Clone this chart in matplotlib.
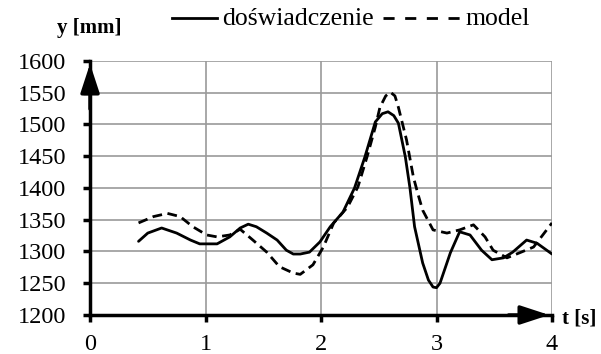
import numpy as np
import matplotlib
matplotlib.use("Agg")
import matplotlib.pyplot as plt
from matplotlib.lines import Line2D

plt.rcParams['font.family'] = ['Liberation Serif', 'DejaVu Serif']

# experiment (solid)
t_exp = [0.42, 0.50, 0.62, 0.75, 0.87, 0.95, 1.10, 1.21, 1.30, 1.37, 1.44, 1.53,
         1.62, 1.70, 1.76, 1.82, 1.90, 1.99, 2.08, 2.19, 2.29, 2.38, 2.47, 2.53,
         2.58, 2.63, 2.67, 2.73, 2.77, 2.81, 2.88, 2.93, 2.97, 3.00, 3.03, 3.12,
         3.20, 3.29, 3.39, 3.48, 3.58, 3.66, 3.78, 3.87, 4.00]
y_exp = [1316, 1329, 1337, 1329, 1318, 1312, 1312, 1323, 1337, 1343, 1339, 1329,
         1318, 1302, 1296, 1296, 1299, 1315, 1339, 1362, 1400, 1449, 1504, 1517,
         1520, 1514, 1502, 1449, 1400, 1339, 1282, 1255, 1244, 1243, 1250, 1298,
         1331, 1326, 1302, 1287, 1290, 1299, 1318, 1313, 1296]

# model (dashed)
t_mod = [0.42, 0.55, 0.67, 0.78, 0.89, 1.01, 1.10, 1.21, 1.30, 1.41, 1.53, 1.64,
         1.76, 1.82, 1.93, 2.02, 2.11, 2.23, 2.32, 2.40, 2.47, 2.51, 2.56, 2.60,
         2.64, 2.67, 2.74, 2.80, 2.84, 2.88, 2.97, 3.09, 3.20, 3.32, 3.42, 3.49,
         3.61, 3.72, 3.84, 3.92, 4.00]
y_mod = [1345, 1355, 1360, 1355, 1339, 1326, 1323, 1326, 1335, 1318, 1299, 1276,
         1266, 1264, 1279, 1307, 1345, 1370, 1402, 1450, 1496, 1527, 1545, 1551,
         1545, 1527, 1476, 1417, 1390, 1365, 1334, 1329, 1334, 1342, 1323, 1302,
         1290, 1298, 1307, 1326, 1345]

xticks = [0, 1, 2, 3, 4]
yticks = list(range(1200, 1601, 50))

fig = plt.figure(figsize=(6.01, 3.54), dpi=100)
ax = fig.add_axes([0.1498, 0.1102, 0.9185 - 0.1498, 0.8277 - 0.1102])

ax.plot(t_exp, y_exp, color='black', lw=2.0, solid_joinstyle='round', solid_capstyle='round')
ax.plot(t_mod, y_mod, color='black', lw=2.0, dashes=(3.5, 2))

ax.set_xlim(0, 4)
ax.set_ylim(1200, 1600)
ax.set_xticks(xticks)
ax.set_yticks(yticks)
ax.grid(True, color='#9a9a9a', lw=1.2)
ax.set_axisbelow(True)

for s in ['top', 'right']:
    ax.spines[s].set_visible(False)
for s in ['left', 'bottom']:
    ax.spines[s].set_linewidth(2.5)
ax.tick_params(direction='out', length=5, width=2.5, labelsize=17.5)
ax.tick_params(axis='y', pad=12)
ax.tick_params(axis='x', pad=9)

# arrows on axes
arrow = dict(arrowstyle='-|>,head_length=1.1,head_width=0.36',
             color='black', lw=2.5, mutation_scale=16)
ax.annotate('', xy=(0, 1.0), xytext=(0, 0.8), xycoords='axes fraction',
            arrowprops=arrow, annotation_clip=False)
ax.annotate('', xy=(1.0, 0), xytext=(0.9, 0), xycoords='axes fraction',
            arrowprops=arrow, annotation_clip=False)

fig.text(0.149, 0.921, 'y [mm]', fontsize=15, fontweight='bold', ha='center', va='center')
fig.text(0.935, 0.10, 't [s]', fontsize=15, fontweight='bold', ha='left', va='center')

# legend drawn by hand
ly = 0.949
fig.add_artist(Line2D([0.286, 0.361], [ly, ly], color='black', lw=2.0))
fig.text(0.369, ly - 0.003, 'doświadczenie', fontsize=18.5, ha='left', va='center')
fig.add_artist(Line2D([0.637, 0.770], [ly, ly], color='black', lw=2.0, dashes=(4, 3.8)))
fig.text(0.774, ly - 0.003, 'model', fontsize=18.5, ha='left', va='center')

fig.savefig('out.png', dpi=100)
